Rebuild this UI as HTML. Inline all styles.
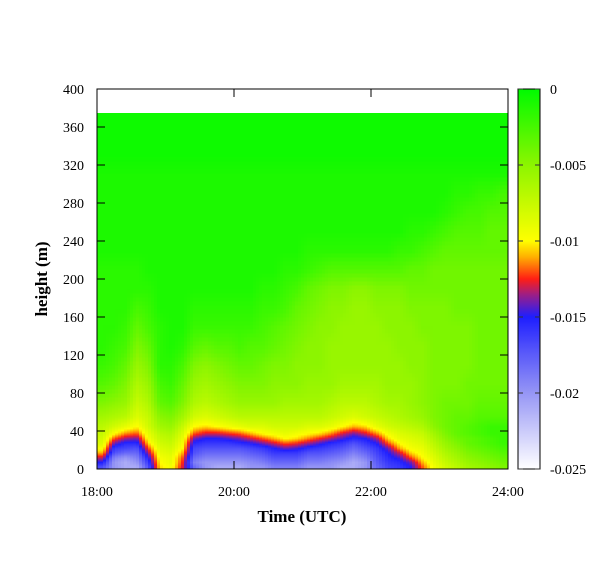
<!DOCTYPE html>
<html><head><meta charset="utf-8"><style>
html,body{margin:0;padding:0;background:#fff;}
svg{display:block;font-family:"Liberation Serif",serif;}
</style></head><body>
<svg id="chart" width="604" height="576" viewBox="0 0 604 576">
<defs>
<clipPath id="plotclip"><rect x="97" y="89" width="411" height="380"/></clipPath>
<linearGradient id="cbgrad" x1="0" y1="1" x2="0" y2="0"></linearGradient>
</defs>
<g id="heat-outer" clip-path="url(#plotclip)"><g id="heat" shape-rendering="crispEdges"></g></g>
<g id="axes"></g>
</svg>
<script>
// ---- data ----
const timeStarts = [18,18.1667,18.3333,18.5,18.6667,18.8333,19,19.1667,19.3333,19.5,19.6667,19.8333,20,20.1667,20.3333,20.5,20.6667,20.8333,21,21.1667,21.3333,21.5,21.6667,21.8333,22,22.1667,22.3333,22.5,22.6667,22.8333,23,23.1667,23.3333,23.5,23.6667,23.8333];
const heightEdges = [0,5,10,15,20,25,30,35,40,50,60,80,100,120,140,160,180,200,220,240,260,280,300,320,340,375];
const valueScale = 0.001;
const values = [
[-17,-15,-13,-11,-9.5,-8.5,-8,-7.5,-7,-6,-4.5,-3,-2,-1.5,-1.5,-1.5,-1.5,-1.5,-1,-1,-1,-1,-1,-0.5,-0.5],
[-20,-20,-19,-17,-16,-14,-12,-10,-8,-6.5,-5,-3.5,-2.5,-2,-1.5,-1.5,-1.5,-1.5,-1,-1,-1,-1,-1,-0.5,-0.5],
[-21,-21,-20,-18,-16.5,-15.5,-13.5,-11.5,-9,-7,-5.5,-4.5,-3.5,-2.5,-2,-1.5,-1.5,-1.5,-1,-1,-1,-1,-1,-0.5,-0.5],
[-21,-20,-19,-18,-17,-15.5,-14,-12,-10,-8.5,-7.5,-6.5,-5.5,-4.5,-3.5,-2.5,-1.5,-1.5,-1,-1,-1,-1,-1,-0.5,-0.5],
[-17,-16,-15,-13.5,-12,-10.5,-9.5,-9,-8,-7.5,-6.5,-5.5,-4.5,-3.5,-2.5,-2,-1.5,-1,-1,-1,-1,-1,-1,-0.5,-0.5],
[-10.5,-10,-9.5,-9,-8.5,-8,-7.5,-7,-6,-5,-3.5,-2.5,-1.5,-1.5,-1.5,-1,-1,-1,-1,-1,-1,-1,-1,-0.5,-0.5],
[-9.5,-9,-9,-8.5,-8,-7.5,-7,-6.5,-5.5,-4.5,-3,-2,-1.5,-1,-1,-1,-1,-1,-1,-1,-1,-1,-1,-0.5,-0.5],
[-13,-12.5,-12,-11,-10,-9.5,-9,-8.5,-7.5,-6,-4.5,-3.5,-2.5,-1.5,-1,-1,-1,-1,-1,-1,-1,-1,-1,-0.5,-0.5],
[-18,-19,-18,-17,-16.5,-15.5,-14,-12,-10,-8,-6.5,-5.5,-4.5,-3,-2,-1.5,-1,-1,-1,-1,-1,-1,-1,-0.5,-0.5],
[-20,-20,-19,-18,-17,-16,-15,-13,-10.5,-8.5,-7,-6,-5,-3.5,-2,-1.5,-1,-1,-1,-1,-1,-1,-1,-0.5,-0.5],
[-21,-20,-19,-18,-17,-16,-15,-13,-10,-8,-6.5,-5.5,-4.5,-3,-2,-1.5,-1,-1,-1,-1,-1,-1,-1,-0.5,-0.5],
[-21,-20,-19,-18,-17,-16,-14.5,-12.5,-9.5,-7.5,-6,-5,-4,-3,-2,-1.5,-1,-1,-1,-1,-1,-1,-1,-0.5,-0.5],
[-21,-20,-19,-18,-17,-15.5,-14,-12,-9,-7,-5.5,-4.5,-3.5,-2.5,-2,-1.5,-1,-1,-1,-1,-1,-1,-1,-0.5,-0.5],
[-20,-19.5,-18.5,-17.5,-16.5,-15,-13,-11,-8.5,-7,-5.5,-4.5,-3.5,-3,-2,-1.5,-1,-1,-1,-1,-1,-1,-1,-0.5,-0.5],
[-20,-19,-18,-17,-16,-14,-12,-10,-8.5,-7,-5.5,-4.5,-4,-3,-2.5,-2,-1.5,-1,-1,-1,-1,-1,-1,-0.5,-0.5],
[-19,-18,-17,-16,-15,-13,-11,-9.5,-8,-7,-5.5,-5,-4.5,-3.5,-3,-2,-1.5,-1,-1,-1,-1,-1,-1,-0.5,-0.5],
[-19,-18,-17,-16,-14,-12,-10,-9,-8,-7,-6,-5,-4.5,-4,-3.5,-2.5,-2,-1.5,-1,-1,-1,-1,-1,-0.5,-0.5],
[-19,-18,-17,-16,-14.5,-12.5,-10.5,-9.5,-8,-7,-6,-5,-5,-4.5,-4,-3.5,-2.5,-1.5,-1,-1,-1,-1,-1,-0.5,-0.5],
[-20,-19,-18,-17,-15.5,-13.5,-11.5,-10,-8.5,-7,-6,-5.5,-5,-5,-4.5,-4,-3.5,-2,-1.5,-1,-1,-1,-1,-0.5,-0.5],
[-20,-19,-18,-17,-16,-14.5,-12.5,-10.5,-8.5,-7,-6,-5.5,-5,-5,-5,-4.5,-4,-2.5,-1.5,-1,-1,-1,-1,-0.5,-0.5],
[-20,-19.5,-18.5,-17.5,-16.5,-15.5,-13.5,-11.5,-9,-7.5,-6.5,-5.5,-5.5,-5.5,-5,-5,-4.5,-3,-1.5,-1,-1,-1,-1,-0.5,-0.5],
[-21,-20,-19,-18,-17,-16,-14.5,-13,-10,-8,-7,-6,-5.5,-5.5,-5.5,-5,-4.5,-3,-1.5,-1,-1,-1,-1,-0.5,-0.5],
[-21,-21,-20,-19,-18,-17,-15.5,-14,-11,-8.5,-7,-6,-5.5,-5.5,-5.5,-5.5,-5,-3,-1.5,-1,-1,-1,-1,-0.5,-0.5],
[-20,-20,-19,-18,-17,-16,-15,-13,-10.5,-8,-7,-6,-5.5,-5.5,-5.5,-5.5,-5,-3,-1.5,-1,-1,-1,-1,-0.5,-0.5],
[-18,-17.5,-17,-16.5,-16,-15,-13.5,-11.5,-9,-7.5,-6.5,-6,-5.5,-5.5,-5.5,-5,-4.5,-3,-1.5,-1,-1,-1,-1,-0.5,-0.5],
[-16.5,-16,-15.5,-15,-14,-12,-10.5,-9.5,-8,-7,-6,-5.5,-5.5,-5.5,-5,-5,-4.5,-3,-1.5,-1,-1,-1,-1,-0.5,-0.5],
[-16,-15.5,-14.5,-13,-11,-10,-9,-8.5,-7.5,-6.5,-6,-5.5,-5.5,-5,-5,-5,-4.5,-3,-2,-1,-1,-1,-1,-0.5,-0.5],
[-15,-14,-12,-10.5,-9.5,-9,-8.5,-8,-7,-6,-5.5,-5.5,-5,-5,-5,-4.5,-4,-3.5,-2,-1.5,-1,-1,-1,-0.5,-0.5],
[-12,-11,-10,-9.5,-9,-8.5,-8,-7.5,-6.5,-5.5,-5,-5,-5,-5,-4.5,-4.5,-4,-3.5,-2.5,-1.5,-1,-1,-1,-0.5,-0.5],
[-9.5,-9,-8.5,-8,-7.5,-7,-6.5,-6,-5,-4.5,-4.5,-4.5,-4.5,-4.5,-4.5,-4.5,-4,-4,-3,-2,-1,-1,-1,-0.5,-0.5],
[-8,-7.5,-7,-6.5,-6,-5.5,-5,-4.5,-4,-4,-4,-4.5,-4.5,-4.5,-4.5,-4.5,-4,-4,-3.5,-2.5,-1.5,-1,-1,-0.5,-0.5],
[-7,-6.5,-6,-5.5,-5,-4.5,-4,-3.5,-3.5,-3.5,-4,-4.5,-4.5,-4.5,-4.5,-4,-4,-4,-3.5,-3,-2,-1.5,-1,-0.5,-0.5],
[-6,-5.5,-5,-4.5,-4,-3.5,-3.5,-3,-3,-3.5,-4,-4,-4.5,-4.5,-4.5,-4,-4,-4,-3.5,-3,-2.5,-1.5,-1,-0.5,-0.5],
[-5.5,-5,-4.5,-4,-3.5,-3,-3,-2.5,-2.5,-3,-3.5,-4,-4,-4,-4,-4,-4,-4,-3.5,-3,-2.5,-2,-1,-0.5,-0.5],
[-5,-4.5,-4,-3.5,-3,-2.5,-2.5,-2,-2,-3,-3.5,-4,-4,-4,-4,-4,-4,-4,-3.5,-3.5,-3,-2,-1,-0.5,-0.5],
[-4.5,-4,-3.5,-3,-2.5,-2,-2,-2,-2,-3,-3.5,-4,-4,-4,-4,-4,-4,-4,-3.5,-3.5,-3,-2.5,-1,-0.5,-0.5]
];
const yTickValues = [0,40,80,120,160,200,240,280,320,360,400];
const xTickValues = [18,20,22,24];
const xTickLabels = ["18:00","20:00","22:00","24:00"];
const cbTickValues = [0,-0.005,-0.01,-0.015,-0.02,-0.025];
const cbTickLabels = ["0","-0.005","-0.01","-0.015","-0.02","-0.025"];
const cmapStops = [0,-0.005,-0.01,-0.011,-0.0125,-0.0135,-0.015,-0.017,-0.02,-0.025];
const cmapColors = [[0,250,0],[140,245,0],[255,255,0],[255,180,0],[255,30,20],[160,30,130],[30,30,255],[80,80,250],[150,150,245],[255,255,255]];

// ---- scales ----
const X0=97,X1=508,Y0=469,Y1=89;
const xs=t=>X0+(t-18)/6*(X1-X0);
const xinv=x=>18+(x-X0)/(X1-X0)*6;
const ys=h=>Y0-h/400*(Y0-Y1);
const yinv=y=>(Y0-y)/(Y0-Y1)*400;
const cbX=518,cbW=22;
const cbY=v=>Y1+(v/-0.025)*(Y0-Y1);
function color(v){
  if(v>=cmapStops[0])return cmapColors[0];
  for(let i=1;i<cmapStops.length;i++){
    if(v>=cmapStops[i]){const f=(cmapStops[i-1]-v)/(cmapStops[i-1]-cmapStops[i]);const a=cmapColors[i-1],b=cmapColors[i];return a.map((c,k)=>Math.round(c+(b[k]-c)*f));}
  }
  return cmapColors[cmapColors.length-1];
}
const NS="http://www.w3.org/2000/svg";
function mk(tag,attrs,parent,text){const e=document.createElementNS(NS,tag);for(const k in attrs)e.setAttribute(k,attrs[k]);if(text!==undefined)e.textContent=text;parent.appendChild(e);return e;}

// ---- smooth rendering of the gridded data (bilinear between cell centres) ----
const dt=timeStarts[1]-timeStarts[0];
const tCent=timeStarts.map(t=>t+dt/2);
const hCent=heightEdges.slice(0,-1).map((h,i)=>(h+heightEdges[i+1])/2);
function bracket(arr,v){
  if(v<=arr[0])return [0,0,0];
  if(v>=arr[arr.length-1])return [arr.length-1,arr.length-1,0];
  for(let i=0;i<arr.length-1;i++){if(v<=arr[i+1])return [i,i+1,(v-arr[i])/(arr[i+1]-arr[i])];}
}
function sample(t,h){
  const [i0,i1,ft]=bracket(tCent,t),[j0,j1,fh]=bracket(hCent,h);
  const a=values[i0][j0]*(1-fh)+values[i0][j1]*fh;
  const b=values[i1][j0]*(1-fh)+values[i1][j1]*fh;
  return (a*(1-ft)+b*ft)*valueScale;
}
const heat=document.getElementById('heat');
const topY=ys(heightEdges[heightEdges.length-1]);
const stepX=3;
for(let x=X0;x<X1;x+=stepX){
  let y=Y0;
  while(y>topY){
    const hgt=yinv(y);
    const sy=hgt<70?2:4;
    const y2=Math.max(topY,y-sy);
    const v=sample(xinv(x+stepX/2),yinv((y+y2)/2));
    const c=color(v);
    const r=mk('rect',{x:x,y:y2.toFixed(2),width:stepX+0.5,height:(y-y2+0.5).toFixed(2),fill:`rgb(${c[0]},${c[1]},${c[2]})`},heat);
    
    
    y=y2;
  }
}

// ---- axes ----
const ax=document.getElementById('axes');
const frame=mk('rect',{x:X0,y:Y1,width:X1-X0,height:Y0-Y1,fill:'none',stroke:'#000','stroke-width':1},ax);


yTickValues.forEach(v=>{
  const y=ys(v);
  mk('line',{x1:X0,y1:y,x2:X0+8,y2:y,stroke:'#000'},ax);
  mk('line',{x1:X1,y1:y,x2:X1-8,y2:y,stroke:'#000'},ax);
  const t=mk('text',{x:84,y:y+5,'text-anchor':'end','font-size':14},ax,String(v));
  
  
});
xTickValues.forEach((v,i)=>{
  const x=xs(v);
  mk('line',{x1:x,y1:Y0,x2:x,y2:Y0-8,stroke:'#000'},ax);
  mk('line',{x1:x,y1:Y1,x2:x,y2:Y1+8,stroke:'#000'},ax);
  const t=mk('text',{x:x,y:496,'text-anchor':'middle','font-size':14},ax,xTickLabels[i]);
  
  
});
const yt=mk('text',{x:0,y:0,transform:'translate(47,279) rotate(-90)','text-anchor':'middle','font-size':17,'font-weight':'bold'},ax,'height (m)');


const xt=mk('text',{x:302,y:522,'text-anchor':'middle','font-size':17,'font-weight':'bold'},ax,'Time (UTC)');



// ---- colorbar ----
const grad=document.getElementById('cbgrad');
for(let i=0;i<=100;i++){const v=-0.025*(1-i/100);const c=color(v);mk('stop',{offset:(i/100).toFixed(3),'stop-color':`rgb(${c[0]},${c[1]},${c[2]})`},grad);}
const cb=mk('rect',{x:cbX,y:Y1,width:cbW,height:Y0-Y1,fill:'url(#cbgrad)',stroke:'#000','stroke-width':1},ax);


cbTickValues.forEach((v,i)=>{
  const y=cbY(v);
  mk('line',{x1:cbX,y1:y,x2:cbX+5,y2:y,stroke:'#333'},ax);
  mk('line',{x1:cbX+cbW,y1:y,x2:cbX+cbW-5,y2:y,stroke:'#333'},ax);
  const t=mk('text',{x:550,y:y+5,'font-size':14},ax,cbTickLabels[i]);
  
  
});
</script>
</body></html>
